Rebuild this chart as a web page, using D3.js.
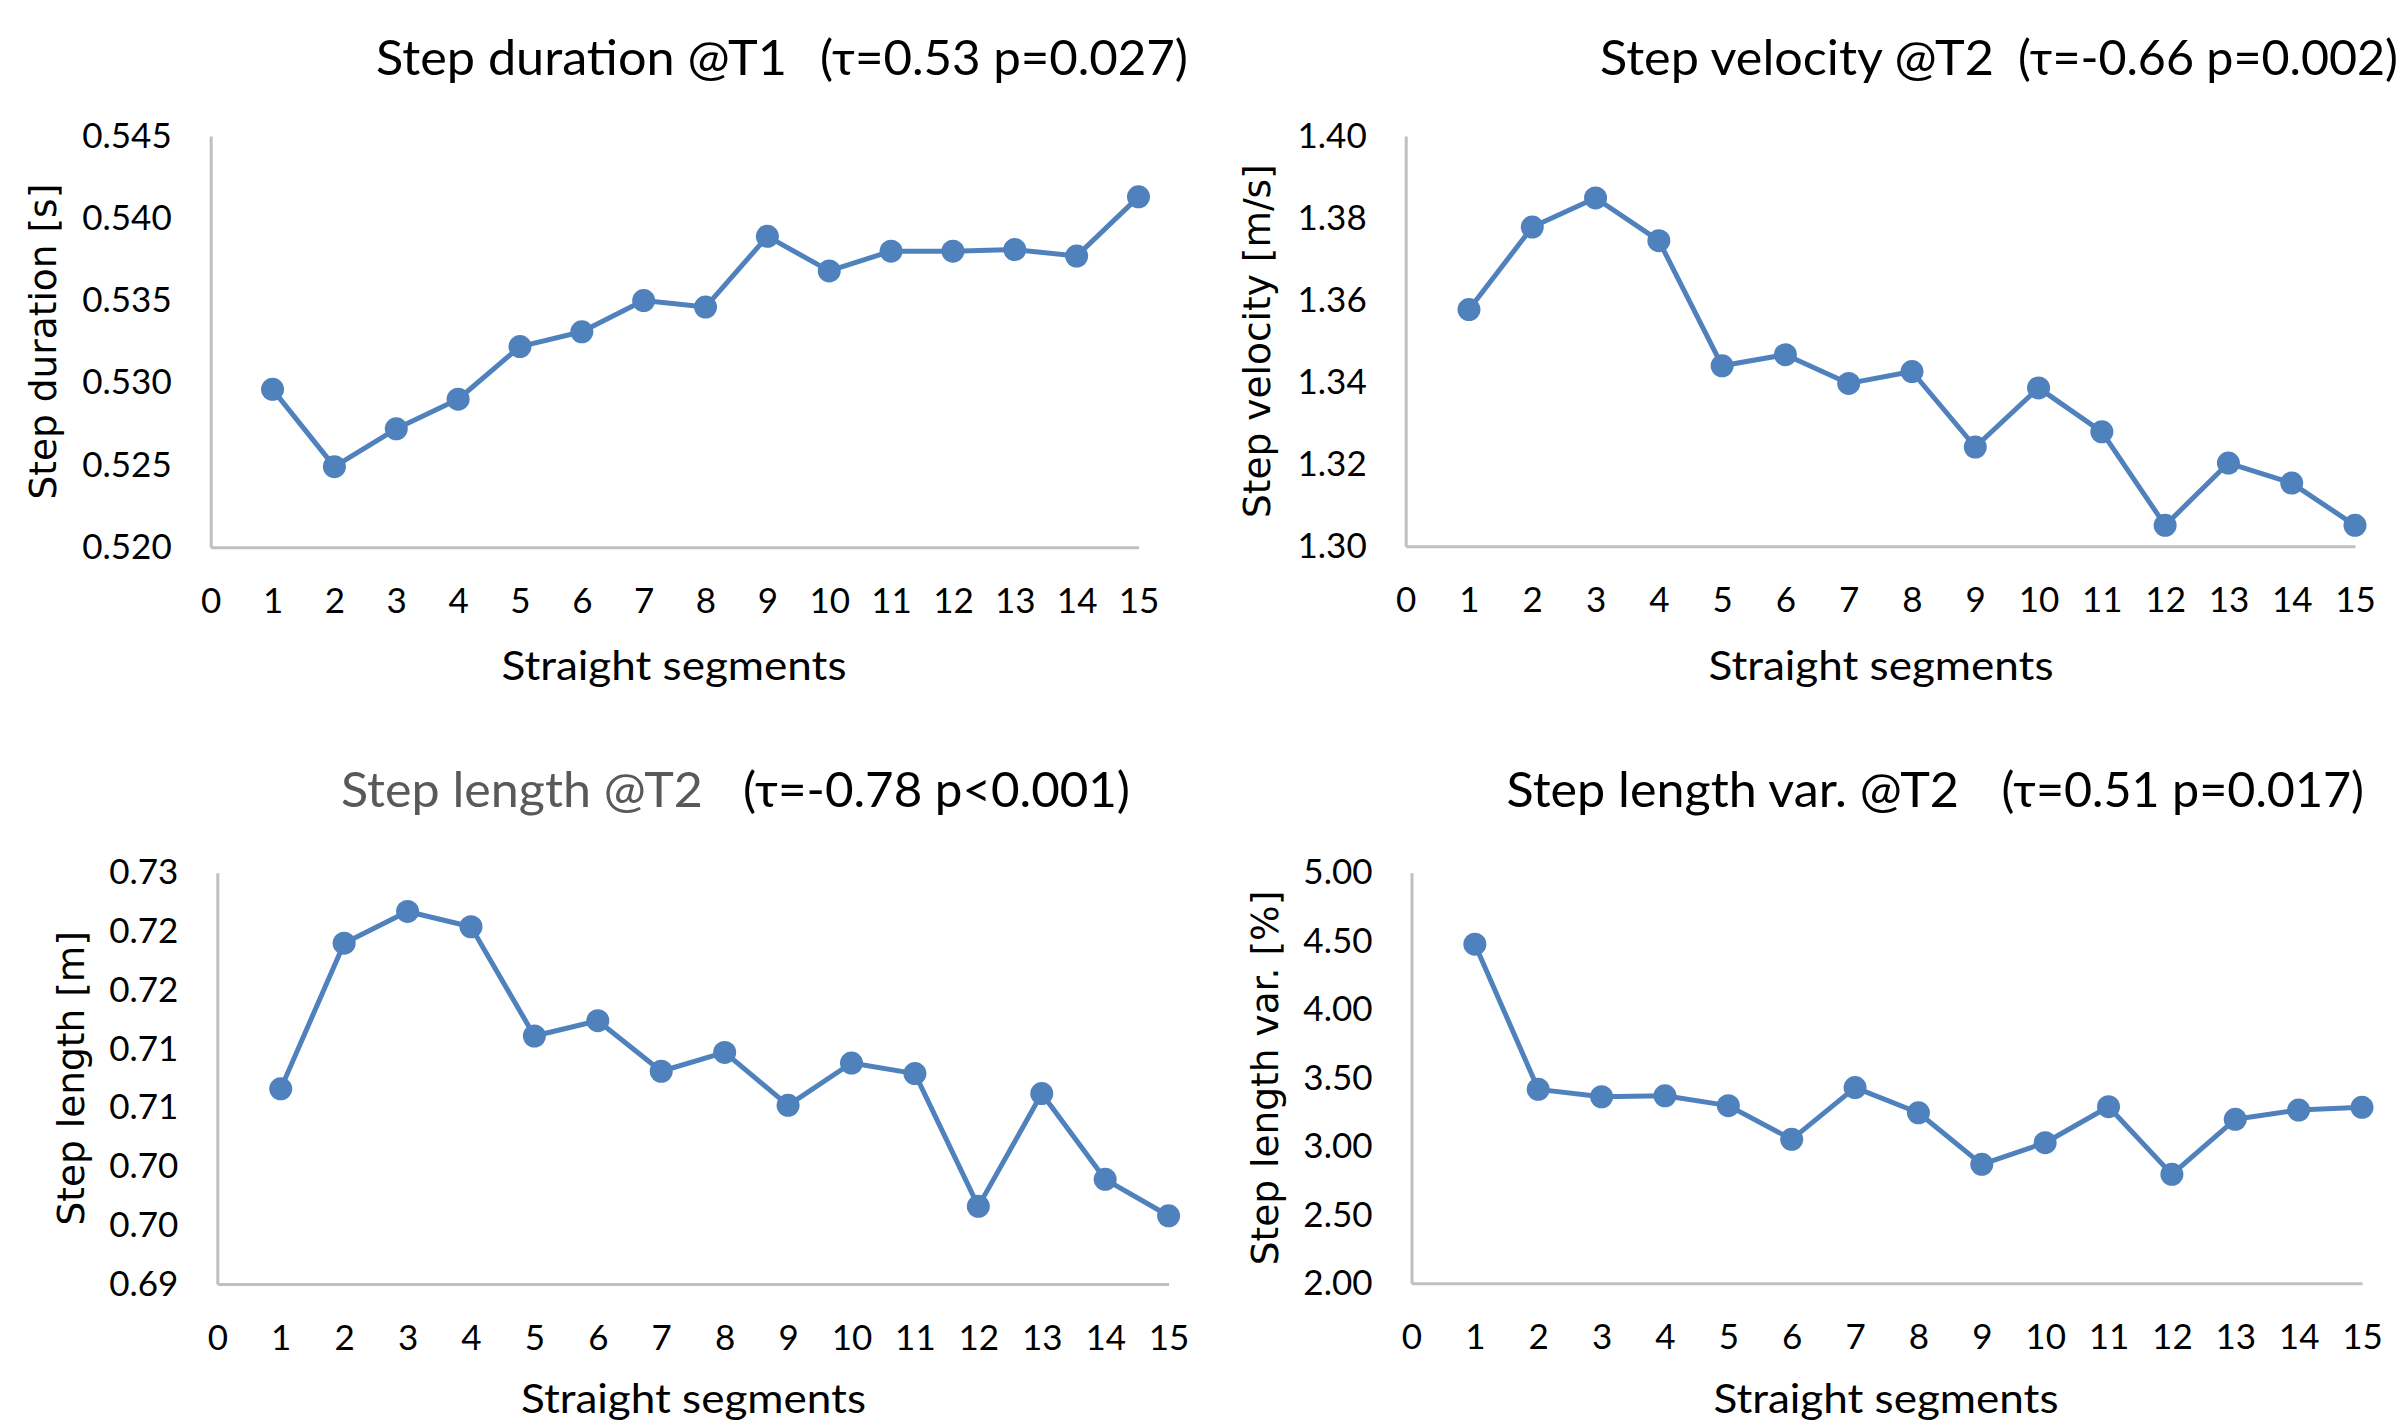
<!DOCTYPE html>
<html>
<head>
<meta charset="utf-8">
<script src="https://cdn.jsdelivr.net/npm/d3@7"></script>
<style>
  body { margin: 0; background: #fff; }
  svg { display: block; background: #fff; }
</style>
</head>
<body>
<svg id="chart"></svg>
<script>
// values

var xTicks = [0, 1, 2, 3, 4, 5, 6, 7, 8, 9, 10, 11, 12, 13, 14, 15];
var segments = [1, 2, 3, 4, 5, 6, 7, 8, 9, 10, 11, 12, 13, 14, 15];

var stepDuration = [0.5296, 0.5249, 0.5272, 0.5290, 0.5322, 0.5331, 0.5350, 0.5346, 0.5389, 0.5368, 0.5380, 0.5380, 0.5381, 0.5377, 0.5413];
var stepVelocity = [1.3577, 1.3778, 1.3849, 1.3745, 1.3440, 1.3467, 1.3397, 1.3426, 1.3242, 1.3386, 1.3279, 1.3051, 1.3203, 1.3154, 1.3051];
var stepLength = [0.7066, 0.7190, 0.7217, 0.7204, 0.7111, 0.7124, 0.7081, 0.7097, 0.7052, 0.7088, 0.7079, 0.6966, 0.7062, 0.6989, 0.6958];
var stepLengthVar = [4.478, 3.417, 3.363, 3.370, 3.298, 3.052, 3.430, 3.246, 2.869, 3.027, 3.290, 2.796, 3.198, 3.266, 3.286];

var durationTicks = [0.520, 0.525, 0.530, 0.535, 0.540, 0.545];
var durationTickLabels = ['0.520', '0.525', '0.530', '0.535', '0.540', '0.545'];
var velocityTicks = [1.30, 1.32, 1.34, 1.36, 1.38, 1.40];
var velocityTickLabels = ['1.30', '1.32', '1.34', '1.36', '1.38', '1.40'];
var lengthTicks = [0.690, 0.695, 0.700, 0.705, 0.710, 0.715, 0.720, 0.725];
var lengthTickLabels = ['0.69', '0.70', '0.70', '0.71', '0.71', '0.72', '0.72', '0.73'];
var lengthVarTicks = [2.0, 2.5, 3.0, 3.5, 4.0, 4.5, 5.0];
var lengthVarTickLabels = ['2.00', '2.50', '3.00', '3.50', '4.00', '4.50', '5.00'];

var titleNames = ['Step duration @T1', 'Step velocity @T2', 'Step length @T2', 'Step length var. @T2'];
var titleStats = ['(τ=0.53 p=0.027)', '(τ=-0.66 p=0.002)', '(τ=-0.78 p<0.001)', '(τ=0.51 p=0.017)'];
var yAxisLabels = ['Step duration [s]', 'Step velocity [m/s]', 'Step length [m]', 'Step length var. [%]'];
var xAxisLabel = 'Straight segments';


var W = 2407, H = 1422;
d3.select('#chart').attr('width', W).attr('height', H);

var blue = '#4f81bd';
var axisGray = '#bfbfbf';
var labelFont = 'Lato, "Open Sans", sans-serif';

function Panel(paramObj){

    var self = this;

    // defaults, overwritten by paramObj
    self.svg = d3.select('#chart');
    self.left = 210;
    self.right = 1138;
    self.top = 136;
    self.bottom = 547;
    self.yMin = 0;
    self.yMax = 1;
    self.yTicks = [];
    self.yTickLabels = [];
    self.values = [];
    self.nameColor = '#000';

    if (paramObj){
        Object.keys(paramObj).forEach(function(key){
            self[key] = paramObj[key];
        });
    }

    self.g = self.svg.append('g');

    self.xScale = d3.scaleLinear()
                    .domain([0, 15])
                    .range([self.left, self.right]);

    self.yScale = d3.scaleLinear()
                    .domain([self.yMin, self.yMax])
                    .range([self.bottom, self.top]);

    self.xAxis = d3.axisBottom(self.xScale)
                    .tickValues(xTicks)
                    .tickSize(0)
                    .tickSizeOuter(0)
                    .tickPadding(41)
                    .tickFormat(d=>d);

    self.yAxis = d3.axisLeft(self.yScale)
                    .tickValues(self.yTicks)
                    .tickSize(0)
                    .tickSizeOuter(0)
                    .tickPadding(39)
                    .tickFormat((d,i)=>self.yTickLabels[i]);

    // axes
    self.yAxisG = self.g.append('g')
            .attr('transform', `translate(${self.left},0)`)
            .call(self.yAxis);

    self.xAxisG = self.g.append('g')
            .attr('transform', `translate(0,${self.bottom})`)
            .call(self.xAxis);

    [self.yAxisG, self.xAxisG].forEach(function(ax){
        ax.attr('font-family', labelFont)
          .attr('font-size', 35);
        ax.selectAll('text').attr('fill', '#000');
        ax.select('.domain')
          .attr('stroke', axisGray)
          .attr('stroke-width', 3);
    });

    // the series
    self.line = d3.line()
                    .x((d,i)=>self.xScale(segments[i]))
                    .y(d=>self.yScale(d));

    self.g.append('path')
        .attr('fill', 'none')
        .attr('stroke', blue)
        .attr('stroke-width', 5)
        .attr('stroke-linejoin', 'round')
        .attr('d', self.line(self.values));

    self.g.selectAll('circle.pt')
        .data(self.values)
        .enter()
        .append('circle')
        .attr('class', 'pt')
        .attr('cx', (d,i)=>self.xScale(segments[i]))
        .attr('cy', d=>self.yScale(d))
        .attr('r', 11.5)
        .attr('fill', blue);

    // chart title, two parts
    self.g.append('text')
        .text(self.name)
        .attr('x', self.nameX)
        .attr('y', self.titleY)
        .attr('textLength', self.nameLen)
        .attr('lengthAdjust', 'spacingAndGlyphs')
        .attr('font-family', labelFont)
        .attr('font-size', 48)
        .attr('fill', self.nameColor);

    self.g.append('text')
        .text(self.stats)
        .attr('x', self.statsX)
        .attr('y', self.titleY)
        .attr('textLength', self.statsLen)
        .attr('lengthAdjust', 'spacingAndGlyphs')
        .attr('font-family', labelFont)
        .attr('font-size', 48)
        .attr('fill', '#000');

    // axis titles
    self.g.append('text')
        .text(xAxisLabel)
        .attr('x', self.xLabelX)
        .attr('y', self.xLabelY)
        .attr('text-anchor', 'middle')
        .attr('textLength', 345)
        .attr('lengthAdjust', 'spacingAndGlyphs')
        .attr('font-family', labelFont)
        .attr('font-size', 40)
        .attr('fill', '#000');

    var yLabelG = self.g.append('g')
        .attr('transform', `translate(${self.yLabelX}, ${(self.top + self.bottom) / 2}) rotate(-90)`);
    yLabelG.append('text')
        .text(self.yLabel)
        .attr('text-anchor', 'middle')
        .attr('dy', '0.31em')
        .attr('font-family', '"DejaVu Sans", Verdana, sans-serif')
        .attr('font-size', 37.5)
        .attr('fill', '#000');

} // end Panel


new Panel({
    left: 210.7, right: 1138.5, top: 136, bottom: 547.3,
    yMin: 0.520, yMax: 0.545,
    yTicks: durationTicks, yTickLabels: durationTickLabels,
    values: stepDuration,
    name: titleNames[0], stats: titleStats[0],
    nameX: 376, nameLen: 411, statsX: 820, statsLen: 368, titleY: 75,
    yLabel: yAxisLabels[0], yLabelX: 44,
    xLabelX: 674, xLabelY: 680
});

new Panel({
    left: 1405.7, right: 2355, top: 136, bottom: 546.3,
    yMin: 1.30, yMax: 1.40,
    yTicks: velocityTicks, yTickLabels: velocityTickLabels,
    values: stepVelocity,
    name: titleNames[1], stats: titleStats[1],
    nameX: 1600, nameLen: 394, statsX: 2018, statsLen: 380, titleY: 75,
    yLabel: yAxisLabels[1], yLabelX: 1258,
    xLabelX: 1881, xLabelY: 680
});

new Panel({
    left: 217.3, right: 1168.6, top: 872.7, bottom: 1283.9,
    yMin: 0.690, yMax: 0.725,
    yTicks: lengthTicks, yTickLabels: lengthTickLabels,
    values: stepLength,
    name: titleNames[2], stats: titleStats[2], nameColor: '#595959',
    nameX: 341, nameLen: 362, statsX: 743, statsLen: 387, titleY: 807,
    yLabel: yAxisLabels[2], yLabelX: 72.5,
    xLabelX: 693.5, xLabelY: 1413
});

new Panel({
    left: 1411.5, right: 2362, top: 872.7, bottom: 1283.3,
    yMin: 2.0, yMax: 5.0,
    yTicks: lengthVarTicks, yTickLabels: lengthVarTickLabels,
    values: stepLengthVar,
    name: titleNames[3], stats: titleStats[3],
    nameX: 1506.5, nameLen: 452.5, statsX: 2001.5, statsLen: 362.5, titleY: 807,
    yLabel: yAxisLabels[3], yLabelX: 1266,
    xLabelX: 1886, xLabelY: 1413
});

</script>
</body>
</html>
